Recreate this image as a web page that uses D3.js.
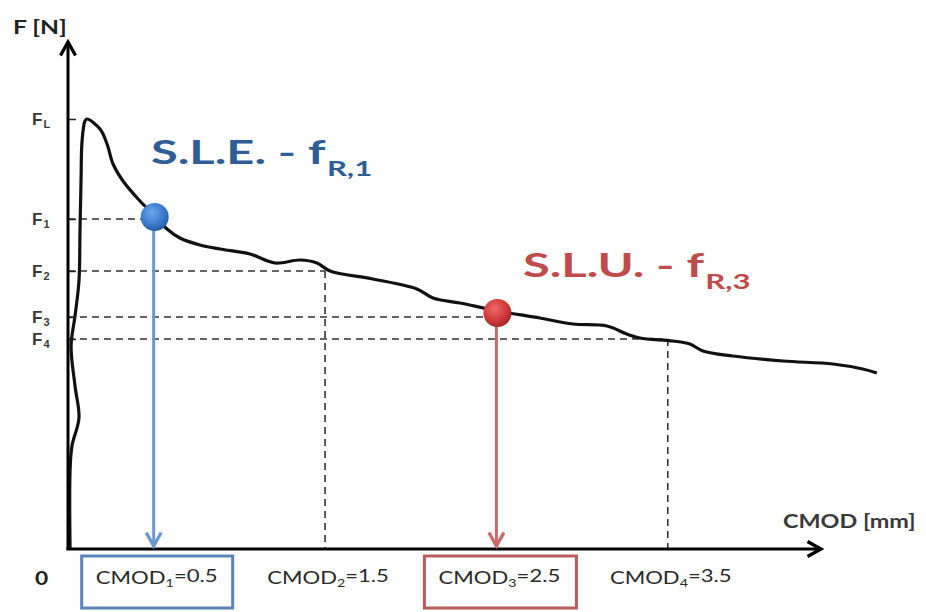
<!DOCTYPE html>
<html>
<head>
<meta charset="utf-8">
<script src="https://cdn.jsdelivr.net/npm/d3@7"></script>
<style>
  body { margin: 0; background: #fff; }
  svg { display: block; font-family: Lato, "Open Sans", sans-serif; }
</style>
</head>
<body>
<div id="chart"></div>
<script>
// curve: CMOD [mm] and F (arbitrary units, 0 at the x axis)
var curveCmod = [0.012, 0.012, 0.023, 0.064, 0.041, 0.018, 0.041, 0.064, 0.07, 0.076, 0.082, 0.099, 0.111,
    0.187, 0.228, 0.263, 0.321, 0.42, 0.508, 0.578, 0.653, 0.77, 0.887, 1.062, 1.208, 1.354, 1.453, 1.529,
    1.779, 2.036, 2.13, 2.287, 2.509, 2.754, 2.946, 3.145, 3.261, 3.337, 3.53, 3.629, 3.705, 3.88, 4.172,
    4.463, 4.638, 4.72]
var curveF = [0, 78, 103, 131, 163, 203, 233, 268, 318, 368, 408, 428, 430,
    420, 405, 385, 368, 348, 333, 320, 311, 304, 300, 295, 286, 289, 286, 278,
    270, 260, 251, 246, 238, 231, 225, 223, 215, 211, 208, 205, 198, 193, 188,
    185, 180, 176]

var fNames = ["L", "1", "2", "3", "4"]
var fValues = [430, 330, 278, 232, 210]

var cmodSubs = ["1", "2", "3", "4"]
var cmodValues = [0.5, 1.5, 2.5, 3.5]
var cmodText = ["0.5", "1.5", "2.5", "3.5"]

var xMax = 4.4, yMax = 508

var width = 926, height = 612
var x = d3.scaleLinear().domain([0, xMax]).range([68, 822])
var y = d3.scaleLinear().domain([0, yMax]).range([549, 41])

var blue = "#6a98cf", blueDark = "#2f5d95", red = "#c96a6a", redDark = "#bf4b4b"

var svg = d3.select("#chart").append("svg")
    .attr("width", width)
    .attr("height", height)

var defs = svg.append("defs")

function arrowMarker(id, color, w) {
    defs.append("marker")
        .attr("id", id)
        .attr("viewBox", "-10 -6 12 12")
        .attr("refX", 0).attr("refY", 0)
        .attr("markerWidth", w).attr("markerHeight", w)
        .attr("markerUnits", "userSpaceOnUse")
        .attr("orient", "auto")
        .append("path")
        .attr("d", "M-9,-5 L0,0 L-9,5")
        .attr("fill", "none")
        .attr("stroke", color)
        .attr("stroke-width", 2.2)
        .attr("stroke-linejoin", "miter")
}
arrowMarker("axisArrow", "#000", 18)
arrowMarker("blueArrow", blue, 18)
arrowMarker("redArrow", red, 18)

function ballGradient(id, light, mid, dark) {
    var g = defs.append("radialGradient").attr("id", id)
        .attr("cx", "40%").attr("cy", "35%").attr("r", "65%")
    g.append("stop").attr("offset", "0%").attr("stop-color", light)
    g.append("stop").attr("offset", "60%").attr("stop-color", mid)
    g.append("stop").attr("offset", "100%").attr("stop-color", dark)
}
ballGradient("blueBall", "#6ea4ea", "#3f7dd0", "#2c5fa8")
ballGradient("redBall", "#ec6a6a", "#d43c3c", "#a82a2a")

// text drawn a bit wider than the font, the picture is stretched sideways
function wideText(px, py, sx, parent) {
    return (parent || svg).append("text")
        .attr("transform", "translate(" + px + "," + py + ") scale(" + sx + ",1)")
}

// dashed guides
var guides = svg.append("g")
    .attr("stroke", "#333")
    .attr("stroke-width", 1.6)
    .attr("stroke-dasharray", "7,5")
    .attr("fill", "none")

fValues.slice(1).forEach(function (f, i) {
    guides.append("line")
        .attr("x1", x(0)).attr("x2", x(cmodValues[i]))
        .attr("y1", y(f)).attr("y2", y(f))
    if (i == 1 || i == 3) {
        guides.append("line")
            .attr("x1", x(cmodValues[i])).attr("x2", x(cmodValues[i]))
            .attr("y1", y(f)).attr("y2", y(0))
    }
})

// the load curve
var line = d3.line()
    .x(function (d) { return x(d[0]) })
    .y(function (d) { return y(d[1]) })
    .curve(d3.curveCatmullRom.alpha(0.5))

svg.append("path")
    .datum(d3.zip(curveCmod, curveF))
    .attr("d", line)
    .attr("fill", "none")
    .attr("stroke", "#111")
    .attr("stroke-width", 3.2)
    .attr("stroke-linejoin", "round")

// axes
var yAxis = d3.axisLeft(y)
    .tickValues(fValues)
    .tickSizeInner(-8)
    .tickSizeOuter(0)
    .tickFormat("")

var yg = svg.append("g")
    .attr("transform", "translate(" + x(0) + ",0)")
    .call(yAxis)
yg.select(".domain").remove()
yg.selectAll(".tick line").attr("stroke", "#222").attr("stroke-width", 1.5)
yg.selectAll(".tick text").each(function (d, i) {
    var t = d3.select(this)
        .attr("fill", "#3a3a3a")
        .attr("font-size", 17)
        .attr("font-weight", 700)
        .attr("text-anchor", "start")
        .attr("x", -36)
        .attr("dy", "0.3em")
    t.append("tspan").text("F")
    t.append("tspan").text(fNames[i])
        .attr("font-size", 11)
        .attr("dx", 1)
        .attr("dy", "0.35em")
})

svg.append("line")
    .attr("x1", x(0)).attr("x2", x(0))
    .attr("y1", y(0) + 1).attr("y2", y(yMax) + 1)
    .attr("stroke", "#000").attr("stroke-width", 3)
    .attr("marker-end", "url(#axisArrow)")

svg.append("line")
    .attr("x1", x(0) - 1.5).attr("x2", x(xMax) - 1)
    .attr("y1", y(0)).attr("y2", y(0))
    .attr("stroke", "#000").attr("stroke-width", 3)
    .attr("marker-end", "url(#axisArrow)")

wideText(13, 34, 1.3)
    .attr("font-size", 19).attr("font-weight", 700).attr("fill", "#222")
    .text("F [N]")

wideText(783, 528, 1.3)
    .attr("font-size", 18).attr("font-weight", 700).attr("fill", "#3a3a3a")
    .text("CMOD [mm]")

wideText(35, 585, 1.2)
    .attr("font-size", 19).attr("font-weight", 700).attr("fill", "#222")
    .text("0")

// CMOD labels under the axis
var xl = svg.append("g")
cmodValues.forEach(function (c, i) {
    var t = wideText(x(c) + 3, 584, 1.3, xl)
        .attr("text-anchor", "middle")
        .attr("font-size", 17)
        .attr("fill", "#2a2a2a")
    t.append("tspan").text("CMOD")
    t.append("tspan").text(cmodSubs[i]).attr("font-size", 11).attr("dy", "0.3em")
    t.append("tspan").text("=" + cmodText[i]).attr("dy", "-0.3em").attr("font-size", 17)
})

// boxes round CMOD1 and CMOD3
xl.append("rect")
    .attr("x", x(cmodValues[0]) - 72).attr("y", 556)
    .attr("width", 151).attr("height", 52)
    .attr("fill", "none").attr("stroke", "#5c84bb").attr("stroke-width", 3)
xl.append("rect")
    .attr("x", x(cmodValues[2]) - 72).attr("y", 556)
    .attr("width", 152).attr("height", 52)
    .attr("fill", "none").attr("stroke", "#b85c5c").attr("stroke-width", 3)

// vertical arrows from the points down to the axis
svg.append("line")
    .attr("x1", x(cmodValues[0])).attr("x2", x(cmodValues[0]))
    .attr("y1", y(fValues[1])).attr("y2", y(0) - 3)
    .attr("stroke", blue).attr("stroke-width", 3)
    .attr("marker-end", "url(#blueArrow)")
svg.append("line")
    .attr("x1", x(cmodValues[2])).attr("x2", x(cmodValues[2]))
    .attr("y1", y(fValues[3])).attr("y2", y(0) - 3)
    .attr("stroke", red).attr("stroke-width", 3)
    .attr("marker-end", "url(#redArrow)")

svg.append("circle")
    .attr("cx", x(cmodValues[0]) + 1).attr("cy", y(fValues[1]) - 2)
    .attr("r", 14).attr("fill", "url(#blueBall)")
svg.append("circle")
    .attr("cx", x(cmodValues[2]) + 1).attr("cy", y(fValues[3]) - 4)
    .attr("r", 14).attr("fill", "url(#redBall)")

// the two big labels
function bigLabel(px, py, main, sub, color) {
    var t = wideText(px, py, 1.48)
        .attr("font-size", 33)
        .attr("font-weight", 700)
        .attr("fill", color)
    t.append("tspan").text(main)
    t.append("tspan").text(sub).attr("font-size", 21).attr("dy", "0.55em").attr("dx", 1)
}
bigLabel(151, 164, "S.L.E. - f", "R,1", blueDark)
bigLabel(523, 277, "S.L.U. - f", "R,3", redDark)
</script>
</body>
</html>
